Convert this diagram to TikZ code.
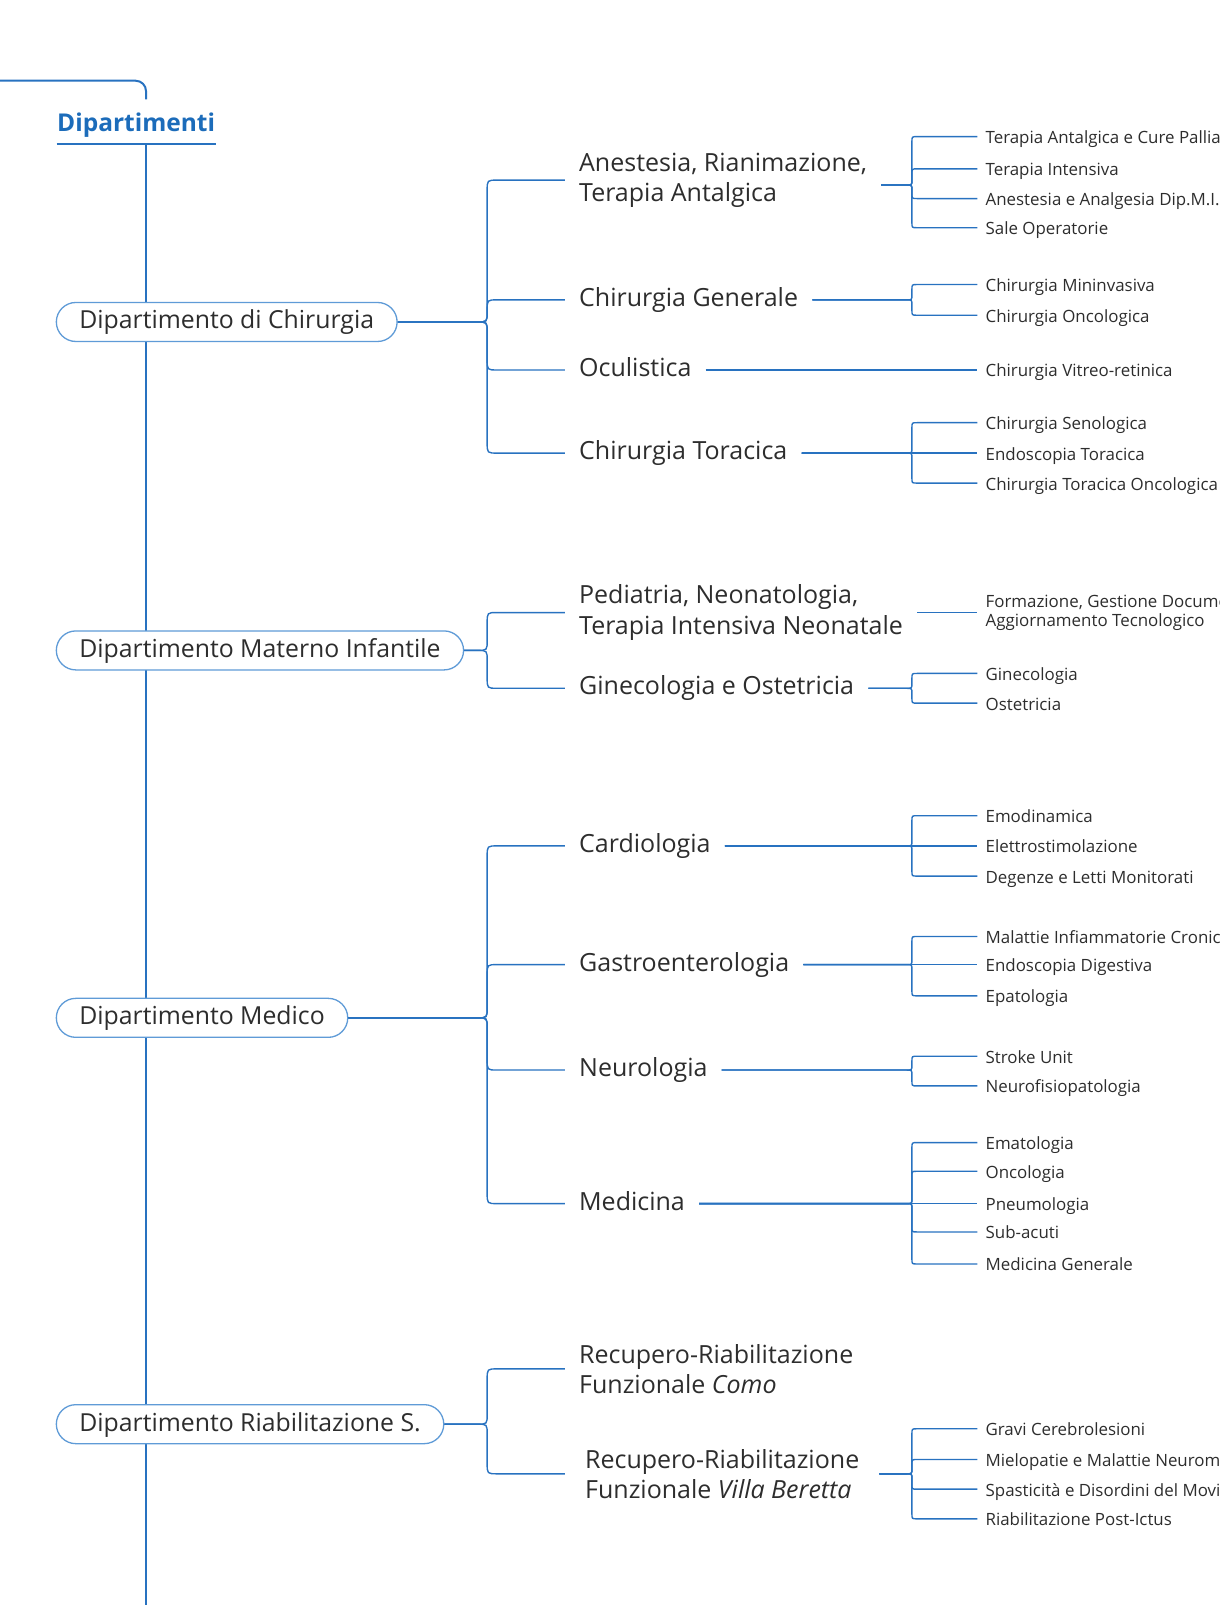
\documentclass[tikz,border=0pt]{standalone}
\usepackage{fontspec}
\setmainfont{Open Sans}
\usetikzlibrary{calc}
\definecolor{lnblue}{RGB}{40,114,192}
\definecolor{pillblue}{RGB}{95,155,215}
\definecolor{ttlblue}{RGB}{28,108,186}
\definecolor{txtgray}{RGB}{45,45,45}
\newcommand\brnch[4]{%
  \draw[conn] let \p1=(#1), \p2=(#2), \p3=(#3,0), \p4=(#4,0),
     \n1={abs(\y2-\y1)<0.5 ? 0 : (\y2>\y1 ? 1 : -1)} in
     (\p1) -- ({\x3-\x4},{\y1}) .. controls ({\x3},{\y1}) .. ({\x3},{\y1+\n1*\x4})
     -- ({\x3},{\y2-\n1*\x4}) .. controls ({\x3},{\y2}) .. ({\x3+\x4},{\y2}) -- (\p2);}
\begin{document}
\begin{tikzpicture}[x=1.0235pt,y=-1.0235pt,
  conn/.style={draw=lnblue,line width=1.4pt},
  spine/.style={draw=lnblue,line width=2pt},
  pill/.style={draw=pillblue,line width=1.3pt,fill=white,rounded corners=19.5pt,
    minimum height=39pt,inner xsep=23pt,anchor=west,text=txtgray,
    font=\fontsize{24.8}{30}\selectfont,text height=18.5pt,text depth=4.5pt},
  lvtwo/.style={anchor=west,inner xsep=14pt,text=txtgray,
    font=\fontsize{25}{30}\selectfont,text height=18.5pt,text depth=5.1pt},
  lvtwom/.style={anchor=west,inner xsep=14pt,text=txtgray,
    font=\fontsize{25}{30.3}\selectfont,align=left},
  leaf/.style={anchor=west,inner xsep=8pt,text=txtgray,
    font=\fontsize{16.9}{19.5}\selectfont,text height=13.9pt,text depth=0pt},
  leafm/.style={anchor=west,inner xsep=8pt,text=txtgray,
    font=\fontsize{16.9}{19.4}\selectfont,align=left},
]
\useasboundingbox (0,0) rectangle (1192,1568.2);
% top line and spine
\coordinate (tl) at (0,78.85);
\coordinate (tr) at (142.7,97);
\draw[spine,rounded corners=10.5pt] (tl) -| (tr);
\coordinate (spT) at (142.7,140.7);
\coordinate (spB) at (142.7,1572);
\draw[spine] (spT) -- (spB);
% title
\node[anchor=base west,inner sep=0pt,text=ttlblue,
  font=\bfseries\fontsize{24.5}{29}\selectfont] (ttl) at (55.7,128.7) {Dipartimenti};
\draw[spine] ($(ttl.base west)+(-0.3,12)$) -- ($(ttl.base east)+(0.5,12)$);
% departments
\node[pill] (d1) at (54.4,314.6) {Dipartimento di Chirurgia};
\node[pill] (d2) at (54.4,635.5) {Dipartimento Materno Infantile};
\node[pill] (d3) at (54.4,994.5) {Dipartimento Medico};
\node[pill] (d4) at (54.4,1391.5) {Dipartimento Riabilitazione S.};
% level two
\node[lvtwom] (a1) at (552,176) {Anestesia, Rianimazione,\\Terapia Antalgica};
\node[lvtwo] (a2) at (552,293) {Chirurgia Generale};
\node[lvtwo] (a3) at (552,361.5) {Oculistica};
\node[lvtwo] (a4) at (552,442.7) {Chirurgia Toracica};
\node[lvtwom] (b1) at (552,598.5) {Pediatria, Neonatologia,\\Terapia Intensiva Neonatale};
\node[lvtwo] (b2) at (552,672.5) {Ginecologia e Ostetricia};
\node[lvtwo] (c1) at (552,826.5) {Cardiologia};
\node[lvtwo] (c2) at (552,942.5) {Gastroenterologia};
\node[lvtwo] (c3) at (552,1045.5) {Neurologia};
\node[lvtwo] (c4) at (552,1176) {Medicina};
\node[lvtwom] (e1) at (552,1337.5) {Recupero-Riabilitazione\\Funzionale \textit{Como}};
\node[lvtwom,inner xsep=20pt] (e2) at (552,1440) {Recupero-Riabilitazione\\Funzionale \textit{Villa Beretta}};
% leaves
\node[leaf] (l11) at (955,133.5) {Terapia Antalgica e Cure Pallia};
\node[leaf] (l12) at (955,165) {Terapia Intensiva};
\node[leaf] (l13) at (955,194) {Anestesia e Analgesia Dip.M.I.};
\node[leaf] (l14) at (955,222.5) {Sale Operatorie};
\node[leaf] (l21) at (955,278) {Chirurgia Mininvasiva};
\node[leaf] (l22) at (955,308) {Chirurgia Oncologica};
\node[leaf] (l31) at (955,361.5) {Chirurgia Vitreo-retinica};
\node[leaf] (l41) at (955,413) {Chirurgia Senologica};
\node[leaf] (l42) at (955,442.7) {Endoscopia Toracica};
\node[leaf] (l43) at (955,472) {Chirurgia Toracica Oncologica};
\node[leafm] (m11) at (955,598.5) {Formazione, Gestione Docume\\Aggiornamento Tecnologico};
\node[leaf] (m21) at (955,658) {Ginecologia};
\node[leaf] (m22) at (955,687) {Ostetricia};
\node[leaf] (n11) at (955,797) {Emodinamica};
\node[leaf] (n12) at (955,826.5) {Elettrostimolazione};
\node[leaf] (n13) at (955,856) {Degenze e Letti Monitorati};
\node[leaf] (n21) at (955,915) {Malattie Infiammatorie Cronic};
\node[leaf] (n22) at (955,942.5) {Endoscopia Digestiva};
\node[leaf] (n23) at (955,973) {Epatologia};
\node[leaf] (n31) at (955,1032) {Stroke Unit};
\node[leaf] (n32) at (955,1061) {Neurofisiopatologia};
\node[leaf] (n41) at (955,1116.4) {Ematologia};
\node[leaf] (n42) at (955,1144.4) {Oncologia};
\node[leaf] (n43) at (955,1176) {Pneumologia};
\node[leaf] (n44) at (955,1203.7) {Sub-acuti};
\node[leaf] (n45) at (955,1235) {Medicina Generale};
\node[leaf] (r21) at (955,1396) {Gravi Cerebrolesioni};
\node[leaf] (r22) at (955,1426) {Mielopatie e Malattie Neurom};
\node[leaf] (r23) at (955,1455) {Spasticità e Disordini del Movi};
\node[leaf] (r24) at (955,1484) {Riabilitazione Post-Ictus};
% level one connectors
\brnch{d1.east}{a1.west}{476}{10}
\brnch{d1.east}{a2.west}{476}{10}
\brnch{d1.east}{a3.west}{476}{10}
\brnch{d1.east}{a4.west}{476}{10}
\brnch{d2.east}{b1.west}{476}{10}
\brnch{d2.east}{b2.west}{476}{10}
\brnch{d3.east}{c1.west}{476}{10}
\brnch{d3.east}{c2.west}{476}{10}
\brnch{d3.east}{c3.west}{476}{10}
\brnch{d3.east}{c4.west}{476}{10}
\brnch{d4.east}{e1.west}{476}{10}
\brnch{d4.east}{e2.west}{476}{10}
% leaf connectors
\coordinate (a1o) at ($(a1.east)+(0,4.8)$);
\brnch{a1o}{l11.west}{891}{5}
\brnch{a1o}{l12.west}{891}{5}
\brnch{a1o}{l13.west}{891}{5}
\brnch{a1o}{l14.west}{891}{5}
\brnch{a2.east}{l21.west}{891}{5}
\brnch{a2.east}{l22.west}{891}{5}
\draw[conn] (a3.east) -- (l31.west);
\brnch{a4.east}{l41.west}{891}{5}
\brnch{a4.east}{l42.west}{891}{5}
\brnch{a4.east}{l43.west}{891}{5}
\draw[conn] (b1.east) -- (m11.west);
\brnch{b2.east}{m21.west}{891}{5}
\brnch{b2.east}{m22.west}{891}{5}
\brnch{c1.east}{n11.west}{891}{5}
\brnch{c1.east}{n12.west}{891}{5}
\brnch{c1.east}{n13.west}{891}{5}
\brnch{c2.east}{n21.west}{891}{5}
\brnch{c2.east}{n22.west}{891}{5}
\brnch{c2.east}{n23.west}{891}{5}
\brnch{c3.east}{n31.west}{891}{5}
\brnch{c3.east}{n32.west}{891}{5}
\brnch{c4.east}{n41.west}{891}{5}
\brnch{c4.east}{n42.west}{891}{5}
\brnch{c4.east}{n43.west}{891}{5}
\brnch{c4.east}{n44.west}{891}{5}
\brnch{c4.east}{n45.west}{891}{5}
\brnch{e2.east}{r21.west}{891}{5}
\brnch{e2.east}{r22.west}{891}{5}
\brnch{e2.east}{r23.west}{891}{5}
\brnch{e2.east}{r24.west}{891}{5}
\end{tikzpicture}
\end{document}
